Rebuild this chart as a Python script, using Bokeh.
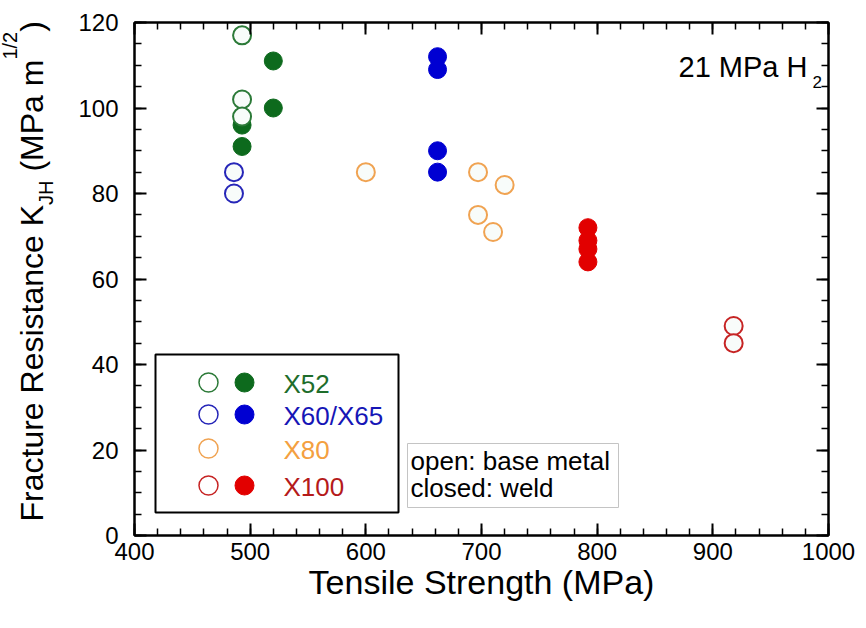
import math
from bokeh.plotting import figure
from bokeh.layouts import row
from bokeh.core.properties import value
from bokeh.models import (Range1d, LinearAxis, SingleIntervalTicker, Label,
                          BoxAnnotation, CustomJSTickFormatter)
from bokeh.embed import file_html
from bokeh.resources import INLINE

# ---------------- data ----------------
x52_base_ts = [493, 493, 493]
x52_base_k = [117, 102, 98]
x52_weld_ts = [493, 493, 520, 520]
x52_weld_k = [96, 91, 111, 100]
x60_base_ts = [486, 486]
x60_base_k = [85, 80]
x60_weld_ts = [662, 662, 662, 662]
x60_weld_k = [112, 109, 90, 85]
x80_base_ts = [600, 697, 720, 697, 710]
x80_base_k = [85, 85, 82, 75, 71]
x100_weld_ts = [792, 792, 792, 792]
x100_weld_k = [72, 69, 67, 64]
x100_base_ts = [918, 918]
x100_base_k = [49, 45]

grades = ["X52", "X60/X65", "X80", "X100"]
x_range = (400, 1000)
y_range = (0, 120)

# ---------------- styling ----------------
FONT = "Liberation Sans"
W, H = 866, 628
STRIP = 60                           # width of the strip holding the y title
FL, FR, FT, FB = 134, 828, 22, 535   # frame edges in page px

GREEN_F, GREEN_O = "#0d6a1d", "#2c7a38"
BLUE_F, BLUE_O = "#0000d2", "#2626b8"
ORANGE_O = "#f0a352"
RED_F, RED_O = "#e20000", "#c62424"
OPEN_FILL = "#f8fcfa"
legend_text_colors = ["#1e6d2b", "#1616b6", "#f4a040", "#b51a1a"]

def dx(cx):
    return x_range[0] + (cx - FL) * (x_range[1] - x_range[0]) / (FR - FL)

def dy(cy):
    return y_range[0] + (FB - cy) * (y_range[1] - y_range[0]) / (FB - FT)

p = figure(width=W - STRIP, height=H, output_backend="svg", toolbar_location=None,
           x_range=Range1d(*x_range), y_range=Range1d(*y_range),
           min_border_left=FL - STRIP, min_border_right=W - FR,
           min_border_top=FT, min_border_bottom=H - FB)
p.xgrid.visible = False
p.ygrid.visible = False
p.outline_line_color = "black"
p.outline_line_width = 2
p.background_fill_color = "white"
p.border_fill_color = "white"

xt = SingleIntervalTicker(interval=100, num_minor_ticks=5)
yt = SingleIntervalTicker(interval=20, num_minor_ticks=4)

def style_axis(ax):
    ax.axis_line_color = "black"
    ax.axis_line_width = 2
    ax.major_tick_in = 12
    ax.major_tick_out = 0
    ax.minor_tick_in = 7
    ax.minor_tick_out = 0
    ax.major_tick_line_width = 2
    ax.minor_tick_line_width = 1.5
    ax.major_tick_line_color = "black"
    ax.minor_tick_line_color = "black"
    ax.major_label_text_font = FONT
    ax.major_label_text_font_size = "24px"
    ax.major_label_text_color = "black"

p.xaxis.ticker = xt
p.yaxis.ticker = yt
style_axis(p.xaxis[0])
style_axis(p.yaxis[0])
p.xaxis.major_label_standoff = 7
p.yaxis.major_label_standoff = 16
p.xaxis.axis_label = "Tensile Strength (MPa)"
p.xaxis.axis_label_text_font = FONT
p.xaxis.axis_label_text_font_size = "34px"
p.xaxis.axis_label_text_font_style = "normal"
p.xaxis.axis_label_text_color = "black"
p.xaxis.axis_label_standoff = 0

empty = CustomJSTickFormatter(code="return ''")
top_ax = LinearAxis(ticker=SingleIntervalTicker(interval=100, num_minor_ticks=5), formatter=empty)
right_ax = LinearAxis(ticker=SingleIntervalTicker(interval=20, num_minor_ticks=4), formatter=empty)
for ax in (top_ax, right_ax):
    style_axis(ax)
    ax.major_label_text_font_size = "1px"
    ax.major_label_standoff = 0
p.add_layout(top_ax, "above")
p.add_layout(right_ax, "right")

# ---------------- boxes (under the glyphs) ----------------
p.add_layout(BoxAnnotation(left=dx(155), right=dx(398), top=dy(354), bottom=dy(512),
                           fill_color="white", fill_alpha=1, line_color="black",
                           line_alpha=1, line_width=2, level="underlay"))
p.add_layout(BoxAnnotation(left=dx(407), right=dx(618), top=dy(443), bottom=dy(507),
                           fill_color="white", fill_alpha=1, line_color="#c4c4c4",
                           line_alpha=1, line_width=1, level="underlay"))

# ---------------- data points ----------------
MS = 18
p.scatter(x52_weld_ts, x52_weld_k, size=MS, marker="circle", fill_color=GREEN_F, line_color=GREEN_F)
p.scatter(x60_weld_ts, x60_weld_k, size=MS, marker="circle", fill_color=BLUE_F, line_color=BLUE_F)
p.scatter(x100_weld_ts, x100_weld_k, size=MS, marker="circle", fill_color=RED_F, line_color=RED_F)
p.scatter(x52_base_ts, x52_base_k, size=MS, marker="circle", fill_color=OPEN_FILL, line_color=GREEN_O, line_width=2)
p.scatter(x60_base_ts, x60_base_k, size=MS, marker="circle", fill_color=OPEN_FILL, line_color=BLUE_O, line_width=2)
p.scatter(x80_base_ts, x80_base_k, size=MS, marker="circle", fill_color=OPEN_FILL, line_color=ORANGE_O, line_width=2)
p.scatter(x100_base_ts, x100_base_k, size=MS, marker="circle", fill_color=OPEN_FILL, line_color=RED_O, line_width=2)

# ---------------- custom legend ----------------
rows_cy = [382, 414, 448, 485]
open_cols = [GREEN_O, BLUE_O, ORANGE_O, RED_O]
fill_cols = [GREEN_F, BLUE_F, None, RED_F]
for i, g in enumerate(grades):
    p.scatter([dx(208)], [dy(rows_cy[i])], size=19, marker="circle",
              fill_color="white", line_color=open_cols[i], line_width=1.5)
    if fill_cols[i] is not None:
        p.scatter([dx(244)], [dy(rows_cy[i])], size=19, marker="circle",
                  fill_color=fill_cols[i], line_color=fill_cols[i])
    p.add_layout(Label(x=dx(283), y=dy(rows_cy[i] + 1), text=g, text_font=FONT,
                       text_font_size="26px", text_color=legend_text_colors[i],
                       text_baseline="middle"))

# ---------------- annotations ----------------
def note(cx, cy, text, size):
    p.add_layout(Label(x=dx(cx), y=dy(cy), text=text, text_font=FONT,
                       text_font_size=f"{size}px", text_color="black",
                       text_baseline="middle"))

note(410, 460, "open: base metal", 26)
note(410, 487, "closed: weld", 26)
note(678, 66, "21 MPa H", 29)
note(812, 81, "2", 17)

# ---------------- y title strip (rotated text with sub/superscript) ----------------
# the row aligns this strip's frame with the main frame (top FT, bottom FB),
# so its y range maps page y directly: y = H - page_y
t = figure(width=STRIP, height=H, output_backend="svg", toolbar_location=None,
           x_range=Range1d(0, STRIP), y_range=Range1d(H - FB, H - FT),
           x_axis_type=None, y_axis_type=None,
           min_border_left=0, min_border_right=0, min_border_top=FT, min_border_bottom=H - FB)
t.xgrid.visible = False
t.ygrid.visible = False
t.outline_line_color = None
t.background_fill_color = "white"
t.border_fill_color = "white"

MAIN, SMALL = 32, 20
arial = {"F": .611, "r": .333, "a": .556, "c": .5, "t": .278, "u": .556, "e": .556,
         " ": .278, "R": .722, "s": .5, "i": .222, "n": .556, "K": .667, "J": .5,
         "H": .722, "(": .333, "M": .833, "P": .667, "m": .833, "1": .556, "/": .278,
         "2": .556, ")": .333}

def tw(s, size):
    return sum(arial[c] for c in s) * size

# (text, font px, page x of the text's middle line, gap before in px)
pieces = [("Fracture Resistance K", MAIN, 31, 0),
          ("JH", SMALL, 45, 0),
          ("(MPa m", MAIN, 31, tw(" ", MAIN)),
          ("1/2", SMALL, 9, 0),
          (")", MAIN, 31, 0)]
cy = 521  # page y where the title starts (bottom end)
for text, size, cx, pre in pieces:
    cy -= pre
    t.text(x=[cx], y=[H - cy], text=[text], angle=math.pi / 2,
           text_font=value(FONT), text_font_size=value(f"{size}px"),
           text_color="black", text_align="left", text_baseline="middle")
    cy -= tw(text, size)

layout = row(t, p, spacing=0)
open("out.html", "w").write(file_html(layout, INLINE))
